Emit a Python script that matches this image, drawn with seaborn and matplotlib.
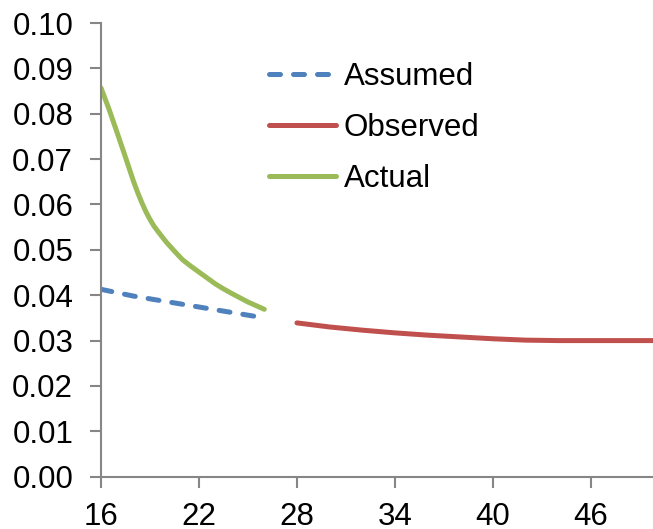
import matplotlib
matplotlib.use("Agg")
import matplotlib.pyplot as plt
import seaborn as sns

sns.set_theme(style="white")
plt.rcParams['font.family'] = ['Liberation Sans', 'DejaVu Sans']
plt.rcParams['text.color'] = 'black'

# Data
assumed_x = [16, 18, 20, 22, 24, 26]
assumed_y = [0.0413, 0.0398, 0.0386, 0.0374, 0.0362, 0.0350]

observed_x = [28, 30, 32, 34, 36, 38, 40, 42, 44, 46, 48, 50]
observed_y = [0.0339, 0.0330, 0.0323, 0.0317, 0.0312, 0.0308, 0.0304, 0.0301, 0.0300, 0.0300, 0.0300, 0.0300]

actual_x = [16, 16.5, 17, 17.5, 18, 18.25, 18.5, 18.75, 19, 19.25, 19.5, 20, 20.5, 21, 21.5,
            22, 22.5, 23, 23.5, 24, 25, 26]
actual_y = [0.0857, 0.0809, 0.0757, 0.0704, 0.0650, 0.0626, 0.0604, 0.0584, 0.0567, 0.0552, 0.0540,
            0.0517, 0.0497, 0.0478, 0.0464, 0.0451, 0.0438, 0.0425, 0.0414, 0.0404, 0.0385, 0.0369]

x_ticks = [16, 22, 28, 34, 40, 46]
y_ticks = [0.00, 0.01, 0.02, 0.03, 0.04, 0.05, 0.06, 0.07, 0.08, 0.09, 0.10]

blue = "#4F81BD"
red = "#C0504D"
green = "#9BBB59"

fig = plt.figure(figsize=(6.53, 5.29), dpi=100)
ax = fig.add_axes([101/653, 1 - 476.7/529, 1 - 101/653, (476.7 - 23)/529])

lw = 3.6
sns.lineplot(x=assumed_x, y=assumed_y, ax=ax, color=blue, linewidth=lw,
             label="Assumed", solid_capstyle="round")
ax.lines[-1].set_dashes((2.2, 2.6))
ax.lines[-1].set_dash_capstyle("round")
sns.lineplot(x=observed_x, y=observed_y, ax=ax, color=red, linewidth=lw,
             label="Observed", solid_capstyle="round")
sns.lineplot(x=actual_x, y=actual_y, ax=ax, color=green, linewidth=lw,
             label="Actual", solid_capstyle="round")
for ln in ax.lines:
    ln.set_solid_joinstyle("round")

ax.set_xlim(16, 16 + 552/16.33)
ax.set_ylim(0, 0.10)
ax.set_xticks(x_ticks)
ax.set_yticks(y_ticks)
ax.set_xticklabels([str(t) for t in x_ticks])
ax.set_yticklabels([f"{t:.2f}" for t in y_ticks])

axis_color = "#868686"
for s in ["top", "right"]:
    ax.spines[s].set_visible(False)
for s in ["left", "bottom"]:
    ax.spines[s].set_color(axis_color)
    ax.spines[s].set_linewidth(1.5)
ax.tick_params(axis="both", which="major", direction="out", length=8, width=1.5,
               color=axis_color, labelsize=22.5, labelcolor="black", pad=12)
ax.tick_params(axis="x", pad=10)
ax.tick_params(axis="both", bottom=True, left=True)
ax.set_xlabel("")
ax.set_ylabel("")

leg = ax.legend(loc="upper left", bbox_to_anchor=((256 - 101)/552, 1 + (23 - 49)/453.7),
                frameon=False, fontsize=22.5, handlelength=2.15, handletextpad=0.25,
                labelspacing=0.68, borderaxespad=0)
for h in leg.get_lines():
    h.set_linewidth(lw)
    h.set_solid_capstyle("round")
    h.set_dash_capstyle("round")

fig.savefig("out.png", dpi=100)
